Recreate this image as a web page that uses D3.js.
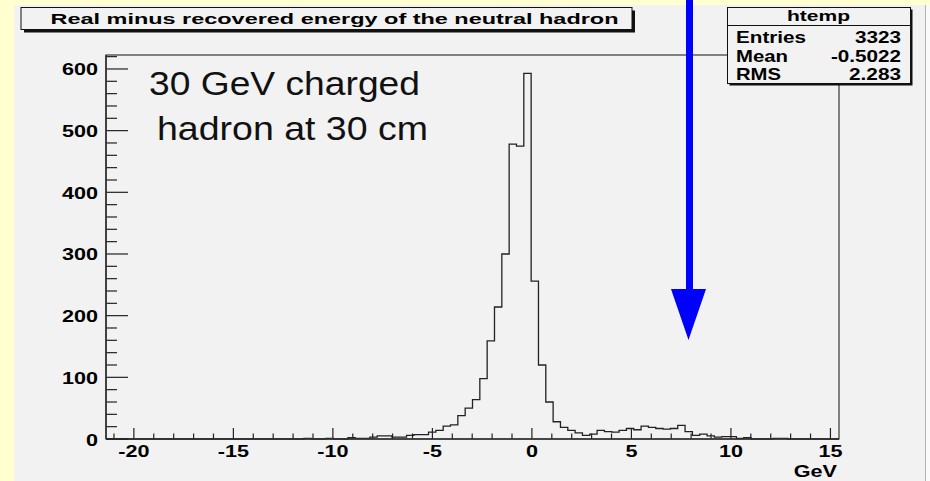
<!DOCTYPE html>
<html>
<head>
<meta charset="utf-8">
<script src="https://cdn.jsdelivr.net/npm/d3@7"></script>
<style>
  html, body { margin: 0; padding: 0; background: #ffffd0; }
  svg { display: block; }
  text { font-family: "Liberation Sans", Arial, sans-serif; }
</style>
</head>
<body>
<div id="chart"></div>
<script>
// histogram range and bin contents (100 bins)
var xMin = -21.4, xMax = 15.43;
var counts = [
  0, 0, 0, 0, 0, 0, 0, 0, 0, 0,
  0, 0, 0, 0, 0, 0, 0, 0, 0, 0,
  0, 0, 0, 0, 0, 0, 0, 1, 0, 0,
  1, 0, 0, 2, 1, 1, 3, 5, 5, 3,
  3, 6, 7, 7, 11, 14, 21, 23, 38, 50,
  64, 98, 159, 214, 300, 478, 475, 593, 256, 120,
  60, 28, 19, 14, 10, 6, 8, 14, 12, 11,
  14, 17, 15, 21, 19, 17, 16, 17, 22, 12,
  6, 8, 5, 3, 4, 4, 1, 2, 0, 0,
  0, 1, 1, 0, 0, 0, 0, 0, 0, 0
];
var xMajorTicks = [-20, -15, -10, -5, 0, 5, 10, 15];
var yMajorTicks = [0, 100, 200, 300, 400, 500, 600];
var titleText = "Real minus recovered energy of the neutral hadron";
var xTitle = "GeV";
var statsName = "htemp";
var statsLabels = ["Entries", "Mean", "RMS"];
var statsValues = ["3323", "-0.5022", "2.283"];
var noteLines = ["30 GeV charged", " hadron at 30 cm"];

var W = 930, H = 481;
var frame = {left: 106, right: 839, top: 55, bottom: 439};
var yMax = d3.max(counts) * 1.05;
var stretch = 1.35;  // ROOT labels look horizontally wide

var svg = d3.select("#chart").append("svg")
    .attr("width", W)
    .attr("height", H);

// yellow surround + grey canvas
svg.append("rect").attr("x", 0).attr("y", 0).attr("width", W).attr("height", H).attr("fill", "#ffffd0");
svg.append("rect").attr("x", 14).attr("y", 5).attr("width", 911).attr("height", H - 5).attr("fill", "#f2f2f2");
svg.append("rect").attr("x", 926).attr("y", 5).attr("width", 4).attr("height", H - 5).attr("fill", "#fafafa");
svg.append("line").attr("x1", 925.5).attr("x2", 925.5).attr("y1", 5).attr("y2", H)
    .attr("stroke", "#b0b0b0").attr("stroke-width", 1);

var x = d3.scaleLinear().domain([xMin, xMax]).range([frame.left, frame.right]);
var y = d3.scaleLinear().domain([0, yMax]).range([frame.bottom, frame.top]);
var binW = (xMax - xMin) / counts.length;

// frame
svg.append("rect")
    .attr("x", frame.left).attr("y", frame.top)
    .attr("width", frame.right - frame.left).attr("height", frame.bottom - frame.top)
    .attr("fill", "#f2f2f2").attr("stroke", "#111").attr("stroke-width", 1);

// histogram outline
var pts = [[xMin, 0]];
counts.forEach(function(c, i) { pts.push([xMin + i * binW, c]); });
pts.push([xMax, counts[counts.length - 1]]);
pts.push([xMax, 0]);
var line = d3.line()
    .x(function(d) { return x(d[0]); })
    .y(function(d) { return y(d[1]); })
    .curve(d3.curveStepAfter);
svg.append("path")
    .attr("d", line(pts))
    .attr("fill", "none")
    .attr("stroke", "#222")
    .attr("stroke-width", 1.3);

// x axis ticks (major every 5, minor every 1), drawn upward
var gx = svg.append("g");
var xMinor = d3.range(Math.ceil(xMin), Math.floor(xMax) + 1);
gx.selectAll("line.minor").data(xMinor).enter().append("line")
    .attr("x1", function(d) { return x(d); }).attr("x2", function(d) { return x(d); })
    .attr("y1", frame.bottom).attr("y2", function(d) { return frame.bottom - (d % 5 === 0 ? 11 : 5.5); })
    .attr("stroke", "#222").attr("stroke-width", 1.2);
gx.append("line").attr("x1", frame.left).attr("x2", frame.right)
    .attr("y1", frame.bottom).attr("y2", frame.bottom)
    .attr("stroke", "#333").attr("stroke-width", 1.6);
gx.selectAll("text").data(xMajorTicks).enter().append("text")
    .attr("transform", function(d) { return "translate(" + x(d) + "," + 457 + ") scale(" + stretch + ",1)"; })
    .attr("text-anchor", "middle")
    .attr("font-size", 16).attr("font-weight", "bold")
    .text(function(d) { return d; });
gx.append("text")
    .attr("transform", "translate(837,476.5) scale(" + stretch + ",1)")
    .attr("text-anchor", "end")
    .attr("font-size", 16).attr("font-weight", "bold")
    .text(xTitle);

// y axis ticks (major every 100, minor every 20), drawn to the right
var gy = svg.append("g");
var yMinor = d3.range(0, yMax, 20);
gy.selectAll("line").data(yMinor).enter().append("line")
    .attr("x1", frame.left).attr("x2", function(d) { return frame.left + (d % 100 === 0 ? 22 : 11); })
    .attr("y1", function(d) { return y(d); }).attr("y2", function(d) { return y(d); })
    .attr("stroke", "#222").attr("stroke-width", 1.2);
gy.append("line").attr("x1", frame.left).attr("x2", frame.left)
    .attr("y1", frame.top).attr("y2", frame.bottom)
    .attr("stroke", "#333").attr("stroke-width", 1.6);
gy.selectAll("text").data(yMajorTicks).enter().append("text")
    .attr("transform", function(d) { return "translate(98," + (y(d) + 6.5) + ") scale(" + stretch + ",1)"; })
    .attr("text-anchor", "end")
    .attr("font-size", 16).attr("font-weight", "bold")
    .text(function(d) { return d; });

// title box with shadow
var tb = {x: 21, y: 7.5, w: 611, h: 22};
svg.append("rect").attr("x", tb.x + 3).attr("y", tb.y + 3).attr("width", tb.w).attr("height", tb.h).attr("fill", "#111");
svg.append("rect").attr("x", tb.x).attr("y", tb.y).attr("width", tb.w).attr("height", tb.h)
    .attr("fill", "#f2f2f2").attr("stroke", "#111").attr("stroke-width", 1);
svg.append("text")
    .attr("x", 50.5).attr("y", 23.5)
    .attr("font-size", 15).attr("font-weight", "bold")
    .attr("textLength", 568).attr("lengthAdjust", "spacingAndGlyphs")
    .text(titleText);

// stats box with shadow
var sb = {x: 727.5, y: 7.5, w: 183, h: 76};
svg.append("rect").attr("x", sb.x + 2).attr("y", sb.y + 2).attr("width", sb.w).attr("height", sb.h).attr("fill", "#111");
svg.append("rect").attr("x", sb.x).attr("y", sb.y).attr("width", sb.w).attr("height", sb.h)
    .attr("fill", "#f2f2f2").attr("stroke", "#111").attr("stroke-width", 1);
svg.append("line").attr("x1", sb.x).attr("x2", sb.x + sb.w).attr("y1", 25.5).attr("y2", 25.5)
    .attr("stroke", "#111").attr("stroke-width", 1);
svg.append("text")
    .attr("x", 818.5).attr("y", 21).attr("text-anchor", "middle")
    .attr("font-size", 15).attr("font-weight", "bold")
    .attr("textLength", 63).attr("lengthAdjust", "spacingAndGlyphs")
    .text(statsName);
var labelW = [70, 52, 45], valueW = [46, 70, 52], rowY = [42.5, 61.5, 80];
statsLabels.forEach(function(s, i) {
  svg.append("text")
      .attr("x", 736).attr("y", rowY[i])
      .attr("font-size", 16.5).attr("font-weight", "bold")
      .attr("textLength", labelW[i]).attr("lengthAdjust", "spacingAndGlyphs")
      .text(s);
  svg.append("text")
      .attr("x", 901 - valueW[i]).attr("y", rowY[i])
      .attr("font-size", 16.5).attr("font-weight", "bold")
      .attr("textLength", valueW[i]).attr("lengthAdjust", "spacingAndGlyphs")
      .text(statsValues[i]);
});

// annotation
svg.append("text").attr("x", 149).attr("y", 94.5)
    .attr("font-size", 32.5).attr("fill", "#111")
    .attr("textLength", 271).attr("lengthAdjust", "spacingAndGlyphs")
    .text(noteLines[0]);
svg.append("text").attr("x", 157).attr("y", 140)
    .attr("font-size", 32.5).attr("fill", "#111")
    .attr("textLength", 271).attr("lengthAdjust", "spacingAndGlyphs")
    .text(noteLines[1].trim());

// blue arrow
svg.append("rect").attr("x", 686).attr("y", 0).attr("width", 7).attr("height", 292).attr("fill", "#0000ff");
svg.append("path").attr("d", "M671,289 L706,289 L688.5,340 Z").attr("fill", "#0000ff");
</script>
</body>
</html>
